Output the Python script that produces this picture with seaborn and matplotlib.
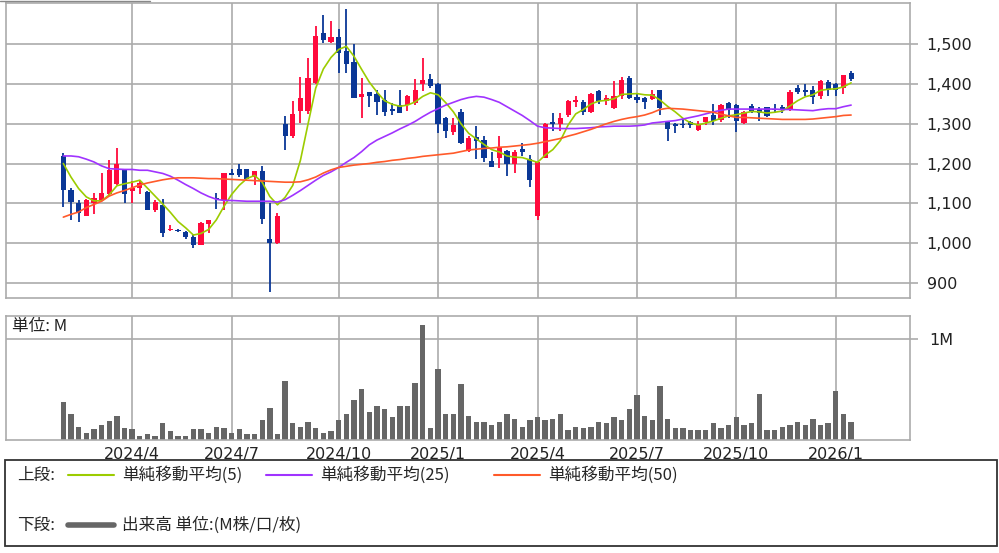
import numpy as np
import pandas as pd
import matplotlib
matplotlib.use('Agg')
import matplotlib.pyplot as plt
from matplotlib.lines import Line2D
from matplotlib.patches import Rectangle
import seaborn as sns

# weekly candles (Mondays) starting 2024-01-29
first_week = '2024-01-29'

opens = [1219, 1134, 1101, 1069, 1100, 1107, 1124, 1149, 1183, 1131,
         1139, 1128, 1084, 1095, 1032, 1033, 1028, 1015, 996, 1047,
         1112, 1107, 1177, 1187, 1186, 1165, 1181, 1011, 999, 1300,
         1270, 1331, 1333, 1402, 1528, 1507, 1518, 1483, 1456, 1368,
         1380, 1375, 1359, 1337, 1347, 1348, 1353, 1401, 1412, 1401,
         1315, 1280, 1330, 1232, 1266, 1259, 1207, 1213, 1232, 1200,
         1236, 1211, 1067, 1215, 1305, 1300, 1322, 1354, 1356, 1330,
         1383, 1357, 1339, 1370, 1416, 1367, 1366, 1362, 1384, 1306,
         1300, 1300, 1305, 1284, 1304, 1323, 1310, 1352, 1347, 1302,
         1345, 1338, 1341, 1338, 1343, 1334, 1389, 1386, 1385, 1370,
         1404, 1401, 1391, 1427]
highs = [1226, 1139, 1107, 1110, 1127, 1175, 1209, 1238, 1185, 1155,
         1157, 1130, 1108, 1110, 1046, 1036, 1031, 1022, 1052, 1059,
         1126, 1176, 1185, 1200, 1187, 1182, 1193, 1100, 1076, 1320,
         1357, 1417, 1466, 1547, 1573, 1559, 1538, 1588, 1500, 1416,
         1381, 1384, 1386, 1352, 1384, 1373, 1412, 1466, 1425, 1403,
         1316, 1315, 1336, 1270, 1295, 1270, 1228, 1270, 1234, 1234,
         1251, 1222, 1204, 1301, 1327, 1327, 1359, 1371, 1360, 1378,
         1386, 1372, 1408, 1418, 1420, 1376, 1367, 1384, 1385, 1308,
         1302, 1314, 1308, 1306, 1318, 1351, 1349, 1355, 1351, 1332,
         1351, 1343, 1343, 1351, 1347, 1384, 1398, 1400, 1396, 1409,
         1410, 1403, 1424, 1434]
lows = [1090, 1057, 1053, 1067, 1073, 1105, 1117, 1146, 1100, 1101,
        1124, 1082, 1078, 1015, 1031, 1027, 1011, 988, 994, 1026,
        1086, 1083, 1170, 1166, 1160, 1145, 1048, 877, 998, 1234,
        1265, 1302, 1324, 1399, 1504, 1504, 1428, 1428, 1365, 1315,
        1342, 1323, 1319, 1323, 1327, 1333, 1348, 1382, 1391, 1277,
        1264, 1272, 1248, 1228, 1211, 1203, 1190, 1188, 1169, 1177,
        1219, 1141, 1057, 1213, 1283, 1283, 1318, 1342, 1321, 1328,
        1350, 1347, 1337, 1363, 1362, 1352, 1336, 1360, 1322, 1257,
        1278, 1290, 1290, 1283, 1297, 1297, 1305, 1314, 1280, 1300,
        1328, 1306, 1318, 1326, 1327, 1333, 1375, 1369, 1351, 1363,
        1369, 1371, 1375, 1407]
closes = [1133, 1102, 1076, 1107, 1112, 1127, 1183, 1199, 1124, 1139,
          1151, 1084, 1102, 1025, 1036, 1030, 1014, 995, 1050, 1058,
          1110, 1175, 1171, 1171, 1162, 1180, 1061, 999, 1069, 1270,
          1325, 1364, 1415, 1521, 1512, 1518, 1477, 1451, 1366, 1374,
          1369, 1355, 1330, 1331, 1328, 1369, 1386, 1409, 1395, 1299,
          1283, 1298, 1252, 1263, 1257, 1213, 1192, 1242, 1198, 1228,
          1230, 1158, 1203, 1300, 1300, 1315, 1357, 1360, 1330, 1376,
          1357, 1365, 1370, 1411, 1366, 1361, 1354, 1375, 1339, 1286,
          1294, 1297, 1297, 1298, 1316, 1306, 1347, 1334, 1306, 1330,
          1332, 1328, 1320, 1335, 1335, 1381, 1380, 1380, 1367, 1408,
          1384, 1386, 1423, 1412]

ma5 = [1200, 1166, 1137, 1116, 1106, 1106, 1121, 1144, 1149, 1153,
       1158, 1138, 1118, 1098, 1077, 1054, 1038, 1020, 1024, 1034,
       1058, 1092, 1122, 1145, 1162, 1170, 1153, 1117, 1096, 1115,
       1145, 1208, 1300, 1390, 1438, 1467, 1487, 1495, 1470, 1437,
       1405, 1380, 1358, 1349, 1344, 1347, 1355, 1369, 1378, 1373,
       1353, 1330, 1300, 1276, 1262, 1248, 1235, 1229, 1219, 1216,
       1215, 1209, 1203, 1221, 1235, 1258, 1297, 1325, 1336, 1350,
       1357, 1359, 1363, 1374, 1375, 1376, 1373, 1372, 1360, 1344,
       1330, 1314, 1302, 1297, 1302, 1307, 1314, 1320, 1323, 1327,
       1331, 1330, 1327, 1329, 1332, 1345, 1358, 1368, 1373, 1384,
       1387, 1388, 1393, 1403]
ma25 = [1219, 1219, 1217, 1211, 1204, 1194, 1187, 1186, 1185, 1185,
        1183, 1183, 1179, 1175, 1168, 1158, 1147, 1137, 1126, 1117,
        1110, 1107, 1107, 1106, 1105, 1105, 1105, 1105, 1103, 1109,
        1120, 1132, 1145, 1158, 1170, 1179, 1190, 1203, 1215, 1230,
        1247, 1259, 1268, 1277, 1287, 1296, 1306, 1318, 1329, 1338,
        1347, 1354, 1361, 1366, 1369, 1367, 1361, 1354, 1343, 1332,
        1321, 1308, 1294, 1290, 1289, 1288, 1288, 1288, 1289, 1290,
        1292, 1293, 1294, 1294, 1294, 1295, 1297, 1302, 1304, 1306,
        1308, 1312, 1316, 1320, 1325, 1330, 1334, 1337, 1337, 1337,
        1337, 1337, 1337, 1337, 1336, 1336, 1335, 1334, 1333, 1336,
        1338, 1338, 1343, 1347]
ma50 = [1065, 1072, 1078, 1089, 1097, 1105, 1118, 1126, 1132, 1139,
        1146, 1151, 1155, 1159, 1162, 1164, 1164, 1164, 1163, 1162,
        1162, 1161, 1160, 1159, 1158, 1157, 1156, 1155, 1154, 1153,
        1153, 1154, 1159, 1166, 1176, 1184, 1190, 1193, 1196, 1198,
        1200, 1203, 1205, 1208, 1210, 1213, 1215, 1218, 1220, 1222,
        1224, 1226, 1230, 1234, 1236, 1238, 1239, 1241, 1242, 1244,
        1246, 1248, 1251, 1255, 1259, 1263, 1269, 1274, 1280, 1286,
        1293, 1300, 1306, 1311, 1315, 1318, 1322, 1328, 1336, 1339,
        1338, 1337, 1335, 1333, 1331, 1329, 1324, 1320, 1316, 1316,
        1315, 1314, 1313, 1312, 1311, 1311, 1311, 1311, 1312, 1314,
        1316, 1318, 1321, 1322]

# volume in millions of shares
volume_m = [0.381, 0.258, 0.132, 0.073, 0.106, 0.149, 0.192, 0.242, 0.119, 0.106,
            0.043, 0.056, 0.043, 0.166, 0.086, 0.043, 0.043, 0.106, 0.106, 0.073,
            0.132, 0.119, 0.073, 0.106, 0.056, 0.056, 0.195, 0.321, 0.056, 0.586,
            0.166, 0.132, 0.182, 0.119, 0.073, 0.086, 0.195, 0.258, 0.397, 0.507,
            0.275, 0.334, 0.305, 0.225, 0.334, 0.334, 0.570, 1.142, 0.119, 0.709,
            0.258, 0.258, 0.553, 0.242, 0.182, 0.182, 0.149, 0.182, 0.258, 0.212,
            0.132, 0.195, 0.225, 0.195, 0.212, 0.258, 0.103, 0.132, 0.119, 0.132,
            0.182, 0.166, 0.225, 0.195, 0.305, 0.444, 0.242, 0.195, 0.536, 0.212,
            0.119, 0.119, 0.103, 0.103, 0.103, 0.166, 0.119, 0.149, 0.225, 0.149,
            0.166, 0.460, 0.103, 0.103, 0.132, 0.149, 0.182, 0.149, 0.212, 0.149,
            0.166, 0.490, 0.258, 0.182]

tick_labels = ['2024/4', '2024/7', '2024/10', '2025/1',
               '2025/4', '2025/7', '2025/10', '2026/1']
price_ticks = [900, 1000, 1100, 1200, 1300, 1400, 1500]

df = pd.DataFrame({'open': opens, 'high': highs, 'low': lows, 'close': closes,
                   'ma5': ma5, 'ma25': ma25, 'ma50': ma50, 'vol': volume_m})
df['week'] = pd.date_range(first_week, periods=len(df), freq='W-MON')
df['i'] = np.arange(len(df))

# gridlines sit on the first weekly candle of each quarter month
tick_pos = []
for lab in tick_labels:
    y, m = lab.split('/')
    start = pd.Timestamp(int(y), int(m), 1)
    tick_pos.append(int(df.loc[df['week'] >= start, 'i'].iloc[0]))

UP = '#ff0a3c'
DOWN = '#0a3796'
GRID = '#ababab'
cjk = ['Noto Sans CJK JP', 'DejaVu Sans']

sns.set_style('white')
plt.rcParams['font.family'] = ['DejaVu Sans']

W, H = 999, 553
fig = plt.figure(figsize=(W / 100, H / 100), dpi=100)


def box(l, t, r, b):
    return [l / W, 1 - b / H, (r - l) / W, (b - t) / H]


ax_p = fig.add_axes(box(5.5, 3, 910, 298))
ax_v = fig.add_axes(box(5.5, 316, 910, 440))
xlim = (-7.56, 110.7)

# ---- price panel
up = df['close'] >= df['open']
colors = np.where(up, UP, DOWN)
ax_p.vlines(df['i'], df['low'], df['high'], colors=colors, lw=1.3, zorder=2)
body_lo = np.minimum(df['open'], df['close'])
body_h = np.maximum((df['close'] - df['open']).abs(), 2.5)
ax_p.bar(df['i'], body_h, bottom=body_lo, width=0.68, color=colors, lw=0, zorder=2)

sns.lineplot(data=df, x='i', y='ma5', ax=ax_p, color='#9ccc00', lw=1.2, zorder=3)
sns.lineplot(data=df, x='i', y='ma25', ax=ax_p, color='#a033ff', lw=1.2, zorder=3)
sns.lineplot(data=df, x='i', y='ma50', ax=ax_p, color='#ff5a2a', lw=1.2, zorder=3)

ax_p.set_xlim(*xlim)
ax_p.set_ylim(861.5, 1604)
ax_p.set_xticks(tick_pos)
ax_p.set_xticklabels([])
ax_p.tick_params(axis='x', length=0)
ax_p.set_yticks(price_ticks)
ax_p.set_yticklabels([f'{v:,}' for v in price_ticks])
ax_p.yaxis.tick_right()
ax_p.tick_params(axis='y', length=6, width=1.2, color=GRID, pad=6,
                 labelsize=11.5, labelcolor='#222222')
ax_p.grid(True, color=GRID, lw=1.2, zorder=0)
ax_p.set_axisbelow(True)
ax_p.set_xlabel('')
ax_p.set_ylabel('')

# ---- volume panel
sns.barplot(x=df['i'], y=df['vol'], ax=ax_v, color='#666666', saturation=1,
            width=0.7, linewidth=0, zorder=2)
ax_v.set_xlim(*xlim)
ax_v.set_ylim(0, 1.231)
ax_v.set_xticks(tick_pos)
ax_v.set_xticklabels(tick_labels)
ax_v.tick_params(axis='x', length=0, pad=5, labelsize=11.5, labelcolor='#222222')
ax_v.set_yticks([1])
ax_v.set_yticklabels(['1M'])
ax_v.yaxis.tick_right()
ax_v.tick_params(axis='y', length=6, width=1.2, color=GRID, pad=8,
                 labelsize=11.5, labelcolor='#222222')
ax_v.grid(True, color=GRID, lw=1.2, zorder=0)
ax_v.set_axisbelow(True)
ax_v.set_xlabel('')
ax_v.set_ylabel('')
ax_v.text(6.5 / 904.5, 1 - 11 / 124, '単位: M', transform=ax_v.transAxes,
          ha='left', va='center', fontsize=12, family=cjk, color='#222222')

for ax in (ax_p, ax_v):
    for s in ax.spines.values():
        s.set_color(GRID)
        s.set_linewidth(1.2)

# small tab line at the top left
fig.add_artist(Line2D([0, 150 / W], [1 - 0.8 / H] * 2, color='#888888', lw=1))

# ---- legend box
fig.add_artist(Rectangle((5 / W, 1 - 546 / H), 992 / W, 86 / H, transform=fig.transFigure,
                         facecolor='white', edgecolor='#333333', lw=1.3))


def fx(px):
    return px / W


def fy(py):
    return 1 - py / H


row1, row2 = 475, 525
fig.text(fx(17), fy(row1), '上段:', ha='left', va='center', fontsize=12, family=cjk)
legend_items = [(68, '#9ccc00', '単純移動平均(5)'),
                (266, '#a033ff', '単純移動平均(25)'),
                (494, '#ff5a2a', '単純移動平均(50)')]
for x0, c, lab in legend_items:
    fig.add_artist(Line2D([fx(x0), fx(x0 + 46)], [fy(row1)] * 2, color=c, lw=1.5))
    fig.text(fx(x0 + 54), fy(row1), lab, ha='left', va='center', fontsize=12, family=cjk)
fig.text(fx(17), fy(row2), '下段:', ha='left', va='center', fontsize=12, family=cjk)
fig.add_artist(Line2D([fx(68), fx(114)], [fy(row2)] * 2, color='#666666', lw=4))
fig.text(fx(122), fy(row2), '出来高 単位:(M株/口/枚)', ha='left', va='center',
         fontsize=12, family=cjk)

fig.savefig('out.png', dpi=100, facecolor='white')
